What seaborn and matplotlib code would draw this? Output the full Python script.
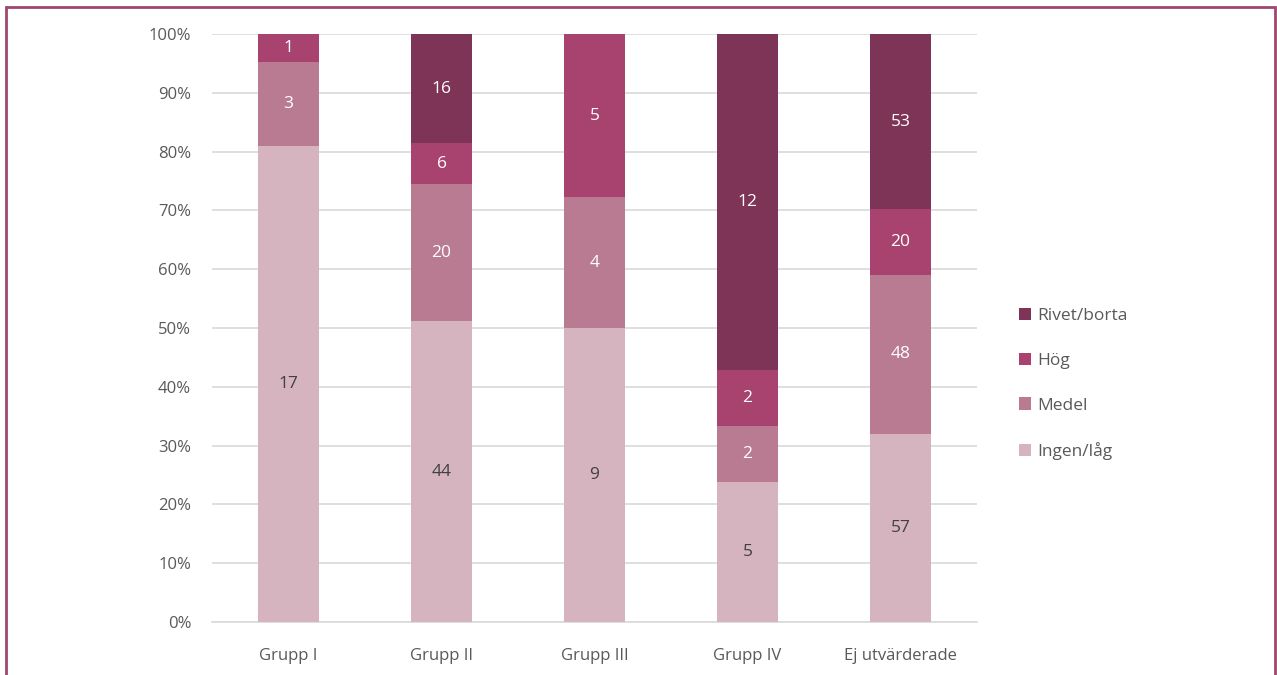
import numpy as np
import pandas as pd
import matplotlib
matplotlib.use("Agg")
import matplotlib.pyplot as plt
from matplotlib.patches import Patch, Rectangle
import seaborn as sns

groups = ["Grupp I", "Grupp II", "Grupp III", "Grupp IV", "Ej utvärderade"]
ingen_lag = [17, 44, 9, 5, 57]
medel = [3, 20, 4, 2, 48]
hog = [1, 6, 5, 2, 20]
rivet_borta = [0, 16, 0, 12, 53]

levels = ["Ingen/låg", "Medel", "Hög", "Rivet/borta"]
colors = ["#D5B4C0", "#B97B92", "#A8436F", "#7E3457"]
text_colors = ["#404040", "white", "white", "white"]

counts = np.array([ingen_lag, medel, hog, rivet_borta], dtype=float)
shares = counts / counts.sum(axis=0) * 100
cum = np.cumsum(shares, axis=0)

sns.set_theme(style="white")
plt.rcParams["font.family"] = ["Open Sans", "DejaVu Sans"]

fig = plt.figure(figsize=(12.77, 6.75), dpi=100)
ax = fig.add_axes([212 / 1277, 1 - 622 / 675, 765 / 1277, 588 / 675])

# Stack by overdrawing cumulative shares from the top layer down
for i in range(len(levels) - 1, -1, -1):
    df = pd.DataFrame({"grupp": groups, "andel": cum[i]})
    sns.barplot(data=df, x="grupp", y="andel", color=colors[i], width=0.4,
                saturation=1, ax=ax, errorbar=None, zorder=3,
                linewidth=0, edgecolor="none")

# Count labels in the middle of each segment
for i in range(len(levels)):
    for j in range(len(groups)):
        if counts[i, j] > 0:
            mid = cum[i, j] - shares[i, j] / 2
            ax.text(j, mid, f"{int(counts[i, j])}", ha="center", va="center",
                    color=text_colors[i], fontsize=12.5, zorder=5)

ax.set_ylim(0, 100)
ax.set_xlim(-0.5, len(groups) - 0.5)
ax.set_yticks(np.arange(0, 101, 10))
ax.set_yticklabels([f"{v}%" for v in range(0, 101, 10)])
ax.yaxis.grid(True, color="#D9D9D9", linewidth=1.2, zorder=0)
ax.set_axisbelow(True)
ax.set_xlabel("")
ax.set_ylabel("")
for s in ["top", "right", "left"]:
    ax.spines[s].set_visible(False)
ax.spines["bottom"].set_color("#D9D9D9")
ax.spines["bottom"].set_linewidth(1.2)
ax.tick_params(axis="both", length=0, labelsize=12, labelcolor="#595959")
ax.tick_params(axis="y", pad=15)
ax.tick_params(axis="x", pad=19)

handles = [Patch(facecolor=colors[i], edgecolor="none", label=levels[i])
           for i in range(len(levels) - 1, -1, -1)]
fig.legend(handles=handles, loc="center left",
           bbox_to_anchor=(1003 / 1277, 1 - 384 / 675), frameon=False,
           fontsize=12.5, labelspacing=1.65, handlelength=0.7, handleheight=0.7,
           handletextpad=0.4, labelcolor="#595959")

# Frame around the figure
fig.patches.append(Rectangle((6 / 1277, -0.05), 1269 / 1277, 1.05 - 7 / 675,
                             transform=fig.transFigure, fill=False,
                             edgecolor="#A0466F", linewidth=2, zorder=10))

fig.savefig("out.png", dpi=100)
